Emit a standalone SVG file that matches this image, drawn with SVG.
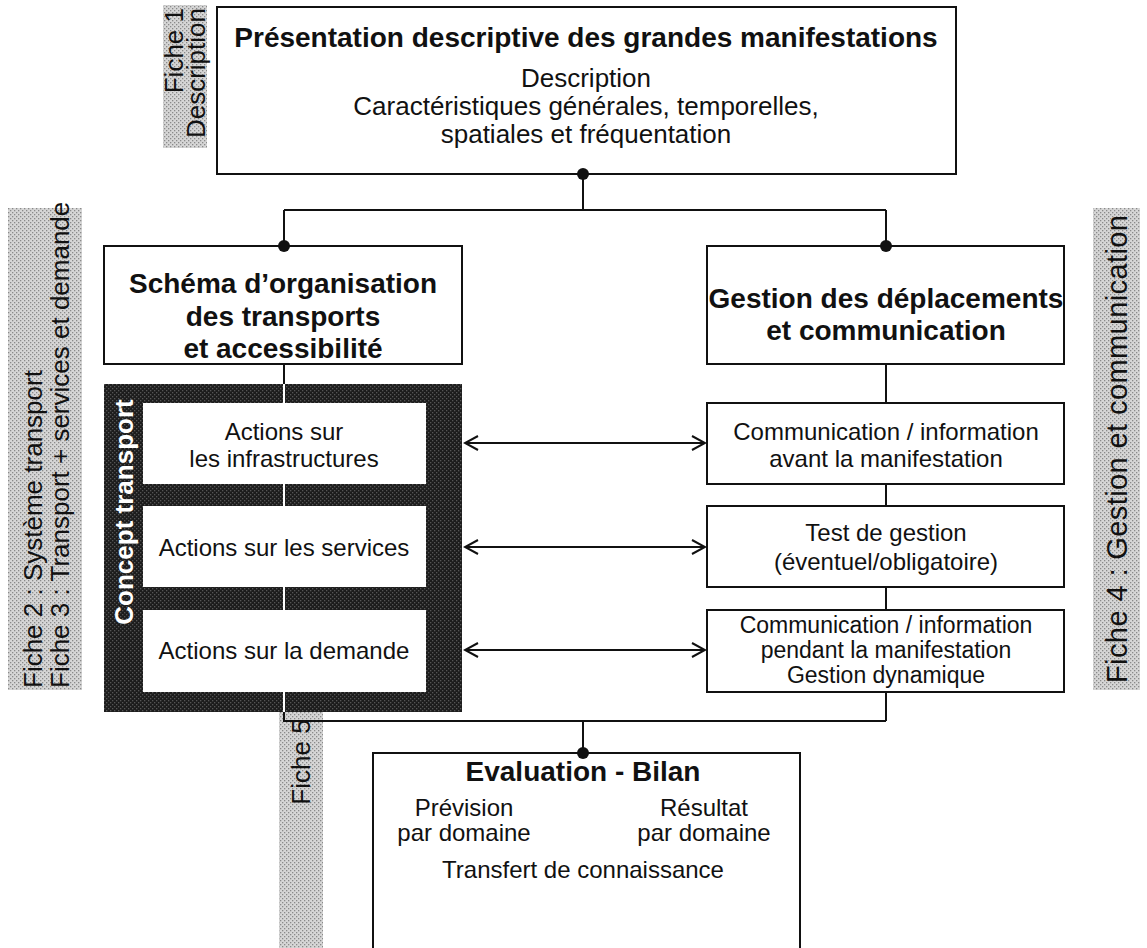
<svg xmlns="http://www.w3.org/2000/svg" width="1147" height="948" viewBox="0 0 1147 948">
<defs>
<pattern id="lightHatch" width="4" height="4" patternUnits="userSpaceOnUse">
<rect width="4" height="4" fill="#d6d6d6"/>
<rect x="0" y="0" width="1.3" height="1.3" fill="#8a8a8a"/>
<rect x="2" y="2" width="1.3" height="1.3" fill="#8a8a8a"/>
</pattern>
<pattern id="darkHatch" width="4" height="4" patternUnits="userSpaceOnUse">
<rect width="4" height="4" fill="#1c1c1c"/>
<rect x="0" y="0" width="1.3" height="1.3" fill="#555"/>
<rect x="2" y="2" width="1.3" height="1.3" fill="#555"/>
</pattern>
<marker id="chev" markerWidth="16" markerHeight="16" refX="14" refY="8" orient="auto-start-reverse" markerUnits="userSpaceOnUse">
<path d="M1,1 L14,8 L1,15" fill="none" stroke="#111" stroke-width="2"/>
</marker>
</defs>
<style>
.box{fill:#fff;stroke:#111;stroke-width:2}
.lbl{fill:url(#lightHatch)}
.t{font-family:"Liberation Sans",Arial,sans-serif;font-size:24px;fill:#111;text-anchor:middle}
.t26{font-family:"Liberation Sans",Arial,sans-serif;font-size:26px;fill:#111;text-anchor:middle}
.t23{font-family:"Liberation Sans",Arial,sans-serif;font-size:23px;fill:#111;text-anchor:middle}
.b{font-family:"Liberation Sans",Arial,sans-serif;font-size:28px;font-weight:bold;fill:#111;text-anchor:middle}
.side{font-family:"Liberation Sans",Arial,sans-serif;font-size:26px;fill:#111}
.side29{font-family:"Liberation Sans",Arial,sans-serif;font-size:29px;fill:#111}
.ct{font-family:"Liberation Sans",Arial,sans-serif;font-size:26px;font-weight:bold;fill:#fff;text-anchor:middle}
.ln{fill:none;stroke:#111;stroke-width:2}
.dot{fill:#111}
</style>

<g id="label-fiche1">
<rect class="lbl" x="163" y="5" width="44" height="143"/>
<text class="side" text-anchor="end" transform="translate(183,8) rotate(-90)"><tspan x="0" y="0">Fiche 1</tspan><tspan x="0" y="22">Description</tspan></text>
</g>

<g id="label-fiche23">
<rect class="lbl" x="8" y="208" width="74" height="482"/>
<text class="side" text-anchor="start" transform="translate(42,688) rotate(-90)"><tspan x="0" y="0">Fiche 2 : Système transport</tspan><tspan x="0" y="27">Fiche 3 : Transport + services et demande</tspan></text>
</g>

<g id="label-fiche4">
<rect class="lbl" x="1093" y="208" width="47" height="482"/>
<text class="side29" text-anchor="middle" textLength="468" lengthAdjust="spacing" transform="translate(1127,449) rotate(-90)">Fiche 4 : Gestion et communication</text>
</g>

<g id="label-fiche5">
<rect class="lbl" x="279" y="703" width="44" height="250"/>
<text class="side" text-anchor="middle" transform="translate(310,762) rotate(-90)">Fiche 5</text>
</g>

<g id="node-presentation">
<rect class="box" x="217" y="7" width="739" height="167"/>
<text class="b" x="586" y="47">Présentation descriptive des grandes manifestations</text>
<text class="t26" x="586" y="87">Description</text>
<text class="t26" x="586" y="115">Caractéristiques générales, temporelles,</text>
<text class="t26" x="586" y="143">spatiales et fréquentation</text>
</g>

<g id="node-schema">
<rect class="box" x="104" y="246" width="358" height="118"/>
<text class="b" x="283" y="293">Schéma d’organisation</text>
<text class="b" x="283" y="326">des transports</text>
<text class="b" x="283" y="358">et accessibilité</text>
</g>

<g id="node-gestion">
<rect class="box" x="707" y="246" width="357" height="118"/>
<text class="b" x="886" y="308">Gestion des déplacements</text>
<text class="b" x="886" y="340">et communication</text>
</g>

<g id="node-concept">
<rect x="104" y="384" width="358" height="328" fill="url(#darkHatch)"/>
<text class="ct" transform="translate(133,512) rotate(-90)">Concept transport</text>
</g>

<g id="node-infra">
<rect x="143" y="403" width="283" height="81" fill="#fff"/>
<text class="t" x="284" y="440">Actions sur</text>
<text class="t" x="284" y="467">les infrastructures</text>
</g>
<g id="node-services">
<rect x="143" y="506" width="283" height="81" fill="#fff"/>
<text class="t" x="284" y="556">Actions sur les services</text>
</g>
<g id="node-demande">
<rect x="143" y="610" width="283" height="82" fill="#fff"/>
<text class="t" x="284" y="659">Actions sur la demande</text>
</g>

<g id="node-avant">
<rect class="box" x="707" y="403" width="357" height="81"/>
<text class="t" x="886" y="440">Communication / information</text>
<text class="t" x="886" y="467">avant la manifestation</text>
</g>
<g id="node-test">
<rect class="box" x="707" y="506" width="357" height="81"/>
<text class="t" x="886" y="541">Test de gestion</text>
<text class="t" x="886" y="570">(éventuel/obligatoire)</text>
</g>
<g id="node-pendant">
<rect class="box" x="707" y="610" width="357" height="82"/>
<text class="t23" x="886" y="633">Communication / information</text>
<text class="t23" x="886" y="658">pendant la manifestation</text>
<text class="t23" x="886" y="683">Gestion dynamique</text>
</g>

<g id="node-evaluation">
<rect class="box" x="373" y="753" width="427" height="200"/>
<text class="b" x="583" y="781">Evaluation - Bilan</text>
<text class="t" x="464" y="816">Prévision</text>
<text class="t" x="464" y="841">par domaine</text>
<text class="t" x="704" y="816">Résultat</text>
<text class="t" x="704" y="841">par domaine</text>
<text class="t" x="583" y="878">Transfert de connaissance</text>
</g>

<g id="connectors">
<path class="ln" d="M583,174 V210 M284,210 H886 M284,210 V246 M886,210 V246"/>
<path class="ln" d="M284,364 V384 M284,712 V721 H886 M886,364 V403 M886,484 V506 M886,587 V610 M886,692 V721 M583,721 V753"/>
<path d="M284,384 V403 M284,484 V506 M284,587 V610 M284,692 V712" fill="none" stroke="#fff" stroke-width="2"/>
<circle class="dot" cx="583" cy="174" r="6"/>
<circle class="dot" cx="284" cy="246" r="6"/>
<circle class="dot" cx="886" cy="246" r="6"/>
<circle class="dot" cx="583" cy="753" r="6"/>
<path class="ln" d="M465,443 H705" marker-start="url(#chev)" marker-end="url(#chev)"/>
<path class="ln" d="M465,547 H705" marker-start="url(#chev)" marker-end="url(#chev)"/>
<path class="ln" d="M465,650 H705" marker-start="url(#chev)" marker-end="url(#chev)"/>
</g>
</svg>
